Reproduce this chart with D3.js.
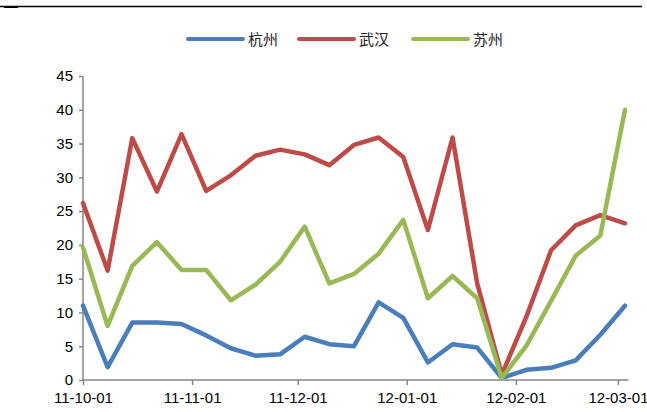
<!DOCTYPE html>
<html>
<head>
<meta charset="utf-8">
<script src="https://cdn.jsdelivr.net/npm/d3@7"></script>
<style>
  body { margin: 0; background: #fff; }
  svg { display: block; }
  .tick text { font-family: "Liberation Sans", Arial, sans-serif; font-size: 15px; fill: #000; }
</style>
</head>
<body>
<svg id="chart" width="647" height="412"></svg>
<script>
// weekly dates
var dates = ['2011-10-01', '2011-10-08', '2011-10-15', '2011-10-22', '2011-10-29',
    '2011-11-05', '2011-11-12', '2011-11-19', '2011-11-26', '2011-12-03',
    '2011-12-10', '2011-12-17', '2011-12-24', '2011-12-31', '2012-01-07',
    '2012-01-14', '2012-01-21', '2012-01-28', '2012-02-04', '2012-02-11',
    '2012-02-18', '2012-02-25', '2012-03-03'];

var hangzhou = [11.0, 1.9, 8.5, 8.5, 8.3, 6.6, 4.7, 3.6, 3.8, 6.4, 5.3, 5.0,
    11.5, 9.2, 2.6, 5.3, 4.8, 0.3, 1.5, 1.8, 2.9, 6.7, 11.0];
var wuhan = [26.2, 16.2, 35.8, 27.9, 36.4, 28.0, 30.3, 33.2, 34.1, 33.4, 31.8, 34.8,
    35.9, 33.0, 22.2, 35.9, 14.3, 0.8, 9.4, 19.2, 22.9, 24.4, 23.2];
var suzhou = [19.6, 8.0, 16.9, 20.4, 16.3, 16.3, 11.8, 14.1, 17.5, 22.7, 14.3, 15.7,
    18.7, 23.7, 12.1, 15.4, 12.1, 0.3, 5.1, 11.7, 18.4, 21.4, 40.0];

var seriesNames = ['杭州', '武汉', '苏州'];
var seriesColors = ['#4a7ebb', '#be4b48', '#98b954'];
var yTicks = [0, 5, 10, 15, 20, 25, 30, 35, 40, 45];
var xTicks = ['2011-10-01', '2011-11-01', '2011-12-01', '2012-01-01', '2012-02-01', '2012-03-01'];

var parse = d3.timeParse('%Y-%m-%d');
var fmt = d3.timeFormat('%y-%m-%d');

var svg = d3.select('#chart');

// top rule
svg.append('line').attr('x1', 0).attr('x2', 642).attr('y1', 6.5).attr('y2', 6.5)
    .style('stroke', '#000').style('stroke-width', 1.5);
svg.append('rect').attr('x', 4).attr('y', 6).attr('width', 14).attr('height', 2).style('fill', '#000');

var x = d3.scaleTime()
    .domain([parse('2011-10-01'), parse('2012-03-04')])
    .range([83, 628.5]);

var y = d3.scaleLinear()
    .domain([0, 45])
    .range([380, 76]);

// axes
var yAxis = d3.axisLeft(y).tickValues(yTicks).tickSize(4).tickPadding(6);
var gy = svg.append('g').attr('transform', 'translate(83,0)').call(yAxis);

var xAxis = d3.axisBottom(x).tickValues(xTicks.map(parse)).tickFormat(fmt).tickSize(5).tickPadding(5);
var gx = svg.append('g').attr('transform', 'translate(0,380)').call(xAxis);

[gx, gy].forEach(function(g) {
    g.select('.domain').style('stroke', '#868686').style('stroke-width', 1.5);
    g.selectAll('.tick line').style('stroke', '#868686').style('stroke-width', 1.5);
});
// domain path without end caps
gy.select('.domain').attr('d', 'M0,' + y(45) + 'V' + y(0));
gx.select('.domain').attr('d', 'M' + x.range()[0] + ',0H' + x.range()[1]);
gx.selectAll('.tick text').attr('dy', '0.85em');

// lines
var line = d3.line()
    .x(function(d, i) { return x(parse(dates[i])); })
    .y(function(d) { return y(d); });

[hangzhou, wuhan, suzhou].forEach(function(values, k) {
    svg.append('path')
        .datum(values)
        .attr('d', line)
        .style('fill', 'none')
        .style('stroke', seriesColors[k])
        .style('stroke-width', 4.5)
        .style('stroke-linejoin', 'round')
        .style('stroke-linecap', 'round');
});

// legend
var legendX = [188, 299, 413];
var legend = svg.append('g');
seriesNames.forEach(function(name, k) {
    legend.append('line')
        .attr('x1', legendX[k]).attr('x2', legendX[k] + 55)
        .attr('y1', 39).attr('y2', 39)
        .style('stroke', seriesColors[k])
        .style('stroke-width', 4)
        .style('stroke-linecap', 'round');
    legend.append('text')
        .attr('x', legendX[k] + 60)
        .attr('y', 44.5)
        .style('font-family', '"Noto Sans CJK SC", sans-serif')
        .style('font-size', '15px')
        .style('fill', '#222')
        .text(name);
});
</script>
</body>
</html>
